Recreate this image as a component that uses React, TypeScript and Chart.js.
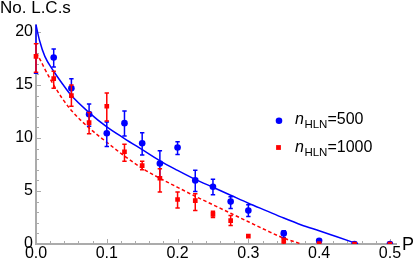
import React, { useEffect, useRef } from "react";
import { Chart, registerables } from "chart.js";

Chart.register(...registerables);

// ---------- data ----------
const pValues = [0, 0.025, 0.05, 0.075, 0.1, 0.125, 0.15, 0.175, 0.2, 0.225, 0.25, 0.275, 0.3, 0.35, 0.4, 0.45, 0.5];

const n500Values = [21.3, 17.6, 14.7, 12.25, 10.45, 11.4, 9.5, 7.6, 9.1, 6.0, 5.4, 4.0, 3.15, 1.0, 0.3, 0, 0];
const n500Low = [16.1, 16.7, 13.9, 11.1, 9.2, 10.2, 8.4, 6.35, 8.45, 4.95, 4.65, 3.35, 2.6, 0.6, 0.3, 0, 0];
const n500High = [26.0, 18.4, 15.6, 13.2, 11.5, 12.55, 10.5, 8.8, 9.65, 6.95, 6.1, 4.45, 3.7, 1.25, 0.3, 0, 0];

const n1000Values = [17.7, 15.6, 14.0, 11.45, 13.0, 8.7, 7.4, 6.2, 4.2, 4.1, 2.8, 2.2, 0.75, 0.3, 0.05, 0, 0];
const n1000Low = [16.2, 14.7, 13.0, 10.4, 11.6, 7.8, 7.0, 4.9, 3.4, 3.15, 2.5, 1.75, 0.75, 0.0, 0.05, 0, 0];
const n1000High = [18.9, 16.3, 15.0, 12.4, 14.25, 9.4, 7.8, 7.1, 4.9, 4.75, 3.1, 2.7, 0.75, 0.55, 0.05, 0, 0];

const fit500P = [0, 0.005, 0.0125, 0.025, 0.0375, 0.05, 0.075, 0.1, 0.125, 0.15, 0.175, 0.2, 0.225, 0.25, 0.275, 0.3, 0.325, 0.35, 0.375, 0.4, 0.425, 0.455];
const fit500Values = [20.66, 19.2, 17.7, 16.3, 15.1, 14.0, 12.4, 11.05, 9.95, 8.9, 7.85, 6.95, 6.1, 5.35, 4.6, 3.85, 3.15, 2.45, 1.8, 1.25, 0.68, 0];

const fit1000P = [0, 0.005, 0.0125, 0.025, 0.0375, 0.05, 0.075, 0.1, 0.125, 0.15, 0.175, 0.2, 0.225, 0.25, 0.275, 0.3, 0.325, 0.35, 0.375];
const fit1000Values = [18.0, 17.5, 16.5, 15.0, 13.7, 12.6, 10.95, 9.6, 8.3, 7.15, 6.2, 5.35, 4.5, 3.7, 2.9, 2.1, 1.3, 0.55, 0];

const xTicks = [0, 0.1, 0.2, 0.3, 0.4, 0.5];
const xMinorTicks = [0.02, 0.04, 0.06, 0.08, 0.12, 0.14, 0.16, 0.18, 0.22, 0.24, 0.26, 0.28, 0.32, 0.34, 0.36, 0.38, 0.42, 0.44, 0.46, 0.48];
const yTicks = [0, 5, 10, 15, 20];
const yMinorTicks = [1, 2, 3, 4, 6, 7, 8, 9, 11, 12, 13, 14, 16, 17, 18, 19];

const yAxisTitle = "No. L.C.s";
const xAxisTitle = "P";
const legendSeries = ["500", "1000"];

// ---------- styles ----------
const FONT = '"Liberation Sans", Arial, Helvetica, sans-serif';
const BLUE = "rgb(0,0,255)";
const RED = "rgb(255,0,0)";
const AXIS = "#ababab";
const CAP = 2.2;

const toPts = (xs: number[], ys: number[]) => xs.map((x, i) => ({ x, y: ys[i] }));

const decorPlugin = {
  id: "decor",
  beforeDatasetsDraw(chart: any) {
    const { ctx, chartArea, scales } = chart;
    const x = scales.x;
    const y = scales.y;
    const x0 = x.getPixelForValue(0);
    const y0 = y.getPixelForValue(0);
    ctx.save();
    ctx.strokeStyle = AXIS;
    ctx.lineWidth = 1;
    ctx.beginPath();
    for (const v of xTicks) {
      if (v === 0) continue;
      const px = Math.round(x.getPixelForValue(v)) + 0.5;
      ctx.moveTo(px, y0);
      ctx.lineTo(px, y0 - 5);
    }
    for (const v of xMinorTicks) {
      const px = Math.round(x.getPixelForValue(v)) + 0.5;
      ctx.moveTo(px, y0);
      ctx.lineTo(px, y0 - 3);
    }
    for (const v of yTicks) {
      if (v === 0) continue;
      const py = Math.round(y.getPixelForValue(v)) + 0.5;
      ctx.moveTo(x0, py);
      ctx.lineTo(x0 + 5, py);
    }
    for (const v of yMinorTicks) {
      const py = Math.round(y.getPixelForValue(v)) + 0.5;
      ctx.moveTo(x0, py);
      ctx.lineTo(x0 + 3, py);
    }
    ctx.stroke();
    ctx.lineWidth = 2;
    ctx.beginPath();
    ctx.moveTo(x0 - 1, y0);
    ctx.lineTo(chartArea.right, y0);
    ctx.moveTo(x0, y0);
    ctx.lineTo(x0, chartArea.top);
    ctx.stroke();
    ctx.restore();
  },
  beforeDatasetDraw(chart: any, args: any) {
    const ds = chart.data.datasets[args.index];
    if (!ds.errLow) return;
    const { ctx, chartArea, scales } = chart;
    const x = scales.x;
    const y = scales.y;
    ctx.save();
    ctx.beginPath();
    ctx.rect(chartArea.left - 10, chartArea.top, chartArea.width + 20, chartArea.height);
    ctx.clip();
    ctx.strokeStyle = ds.backgroundColor;
    ctx.lineWidth = 1.5;
    ds.data.forEach((pt: any, i: number) => {
      const lo = ds.errLow[i];
      const hi = ds.errHigh[i];
      if (hi - lo < 1e-9) return;
      const px = x.getPixelForValue(pt.x);
      const pl = y.getPixelForValue(lo);
      const ph = y.getPixelForValue(hi);
      ctx.beginPath();
      ctx.moveTo(px, pl);
      ctx.lineTo(px, ph);
      ctx.moveTo(px - CAP, pl);
      ctx.lineTo(px + CAP, pl);
      ctx.moveTo(px - CAP, ph);
      ctx.lineTo(px + CAP, ph);
      ctx.stroke();
    });
    ctx.restore();
  },
  afterDraw(chart: any) {
    const { ctx, chartArea, scales } = chart;
    const y0 = scales.y.getPixelForValue(0);
    ctx.save();
    ctx.fillStyle = "#000";
    ctx.textBaseline = "alphabetic";
    ctx.textAlign = "left";
    // x-axis label
    ctx.font = `18px ${FONT}`;
    ctx.fillText(xAxisTitle, chartArea.right + 5, y0 + 5.5);
    // legend
    const rows = [
      { label: legendSeries[0], color: BLUE, shape: "circle", cy: 120.7, base: 123.5 },
      { label: legendSeries[1], color: RED, shape: "rect", cy: 147.5, base: 151.7 },
    ];
    for (const r of rows) {
      ctx.fillStyle = r.color;
      ctx.beginPath();
      if (r.shape === "circle") {
        ctx.arc(279, r.cy, 3.3, 0, Math.PI * 2);
      } else {
        ctx.rect(278.5 - 2.4, r.cy - 2.4, 4.8, 4.8);
      }
      ctx.fill();
      ctx.fillStyle = "#000";
      let tx = 295;
      ctx.font = `italic 16px ${FONT}`;
      ctx.fillText("n", tx, r.base);
      tx += ctx.measureText("n").width + 0.5;
      ctx.font = `11.5px ${FONT}`;
      ctx.fillText("HLN", tx, r.base + 4);
      tx += ctx.measureText("HLN").width;
      ctx.font = `16px ${FONT}`;
      ctx.fillText("=" + r.label, tx, r.base);
    }
    ctx.restore();
  },
};

export default function App() {
  const canvasRef = useRef<HTMLCanvasElement | null>(null);

  useEffect(() => {
    const canvas = canvasRef.current;
    if (!canvas) return;
    const chart = new Chart(canvas, {
      type: "scatter",
      data: {
        datasets: [
          {
            data: toPts(fit500P, fit500Values),
            showLine: true,
            borderColor: BLUE,
            borderWidth: 1.5,
            pointRadius: 0,
            cubicInterpolationMode: "monotone",
            order: 4,
          },
          {
            data: toPts(fit1000P, fit1000Values),
            showLine: true,
            borderColor: RED,
            borderWidth: 1.5,
            borderDash: [3.5, 2.5],
            pointRadius: 0,
            cubicInterpolationMode: "monotone",
            order: 3,
          },
          {
            data: toPts(pValues, n500Values),
            errLow: n500Low,
            errHigh: n500High,
            backgroundColor: BLUE,
            borderWidth: 0,
            pointStyle: "circle",
            pointRadius: 3.3,
            clip: { left: 10, right: 10, top: 0, bottom: 0 },
            order: 2,
          } as any,
          {
            data: toPts(pValues, n1000Values),
            errLow: n1000Low,
            errHigh: n1000High,
            backgroundColor: RED,
            borderWidth: 0,
            pointStyle: "rect",
            pointRadius: 3.3,
            clip: { left: 10, right: 10, top: 0, bottom: 0 },
            order: 1,
          } as any,
        ],
      },
      options: {
        animation: false,
        responsive: false,
        maintainAspectRatio: false,
        events: [],
        layout: { padding: { left: 0, right: 18, top: 0, bottom: 0 } },
        plugins: {
          legend: { display: false },
          tooltip: { enabled: false },
          title: {
            display: true,
            text: yAxisTitle,
            align: "start",
            color: "#000",
            font: { family: FONT, size: 17, weight: "normal", lineHeight: 1 },
            padding: { top: 0, bottom: 7.6 },
          },
        },
        scales: {
          x: {
            type: "linear",
            min: 0,
            max: 0.51,
            grid: { display: false, drawTicks: false },
            border: { display: false },
            ticks: {
              padding: 0,
              color: "#000",
              autoSkip: false,
              maxRotation: 0,
              font: { family: FONT, size: 16 },
              callback: (v: any) => Number(v).toFixed(1),
            },
            afterBuildTicks: (s: any) => {
              s.ticks = xTicks.map((v) => ({ value: v }));
            },
            afterFit: (s: any) => {
              s.height = 21;
            },
          },
          y: {
            type: "linear",
            min: 0,
            max: 20.7,
            grid: { display: false, drawTicks: false },
            border: { display: false },
            ticks: {
              padding: 3,
              color: "#000",
              autoSkip: false,
              font: { family: FONT, size: 16 },
              callback: (v: any) => String(Math.round(Number(v))),
            },
            afterBuildTicks: (s: any) => {
              s.ticks = yTicks.map((v) => ({ value: v }));
            },
            afterFit: (s: any) => {
              s.width = 36;
            },
          },
        },
      } as any,
      plugins: [decorPlugin as any],
    });
    return () => chart.destroy();
  }, []);

  return (
    <div style={{ position: "absolute", left: 0, top: 0, width: 415, height: 265, background: "#fff" }}>
      <canvas ref={canvasRef} width={415} height={265} style={{ display: "block", width: 415, height: 265 }} />
    </div>
  );
}
